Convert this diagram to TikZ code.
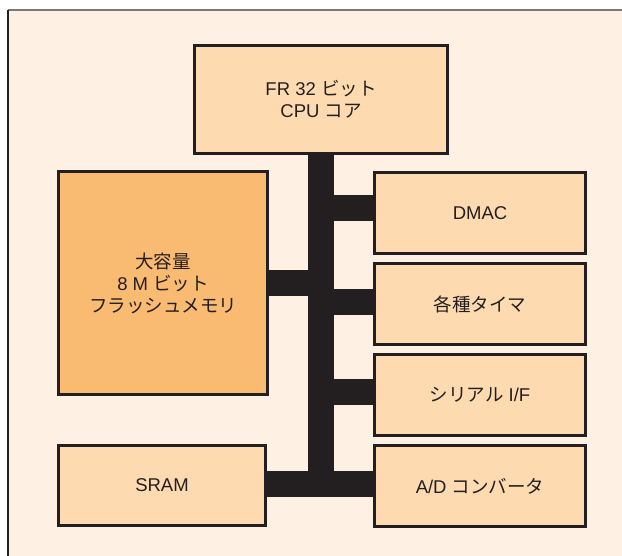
\documentclass[tikz,border=0pt]{standalone}
\usepackage{fontspec}
\setmainfont{Liberation Sans}
\newfontfamily\jp{Noto Sans CJK JP}
\definecolor{bgcream}{HTML}{FEF1E3}
\definecolor{boxfill}{HTML}{FDDAB0}
\definecolor{flashfill}{HTML}{F9BA72}
\definecolor{ink}{HTML}{231F20}
\definecolor{framegray}{HTML}{7A7878}
\begin{document}
\begin{tikzpicture}[x=1pt,y=-1pt,
  blk/.style={draw=ink, line width=2pt, fill=boxfill, inner sep=0pt, align=center,
    text=ink, font=\fontsize{18.5}{22}\selectfont},
  bus/.style={draw=ink, line width=26pt, line cap=butt}]
\useasboundingbox (0,0) rectangle (622,556);
\fill[white] (0,0) rectangle (622,556);
\fill[bgcream] (8,10) rectangle (622,556);
\draw[framegray, line width=1.6pt] (8,10) -- (622,10);
\draw[ink, line width=1.4pt] (8,10) -- (8,556);
% bus skeleton coordinates
\coordinate (bustop) at (321,153);
\coordinate (busbot) at (321,484);
% boxes
\node[blk, minimum width=252pt, minimum height=107pt] (cpu) at (321,99.5) {FR 32 {\jp ビット}\\CPU {\jp コア}};
\node[blk, fill=flashfill, minimum width=208pt, minimum height=222pt] (flash) at (163,283) {{\jp 大容量}\\8 M {\jp ビット}\\{\jp フラッシュメモリ}};
\node[blk, minimum width=210pt, minimum height=80pt] (dmac) at (480,213) {DMAC};
\node[blk, minimum width=210pt, minimum height=80pt] (timer) at (480,304) {{\jp 各種タイマ}};
\node[blk, minimum width=210pt, minimum height=80pt] (serial) at (480,395) {{\jp シリアル} I/F};
\node[blk, minimum width=210pt, minimum height=80pt] (adc) at (480,486) {A/D {\jp コンバータ}};
\node[blk, minimum width=206pt, minimum height=79pt] (sram) at (162,485.5) {SRAM};
% bus
\draw[bus] (cpu.south) -- (busbot);
\draw[bus] (sram.east |- busbot) -- (adc.west |- busbot);
\draw[bus] (flash.east |- 0,283.5) -- (321,283.5) coordinate (fj);
\draw[bus] (bustop |- 0,208) -- (dmac.west |- 0,208);
\draw[bus] (bustop |- 0,302) -- (timer.west |- 0,302);
\draw[bus] (bustop |- 0,392) -- (serial.west |- 0,392);
% redraw box borders on top of connector ends
\foreach \n in {cpu,flash,dmac,timer,serial,adc,sram}
  \draw[ink, line width=2pt] (\n.north west) rectangle (\n.south east);
\end{tikzpicture}
\end{document}
